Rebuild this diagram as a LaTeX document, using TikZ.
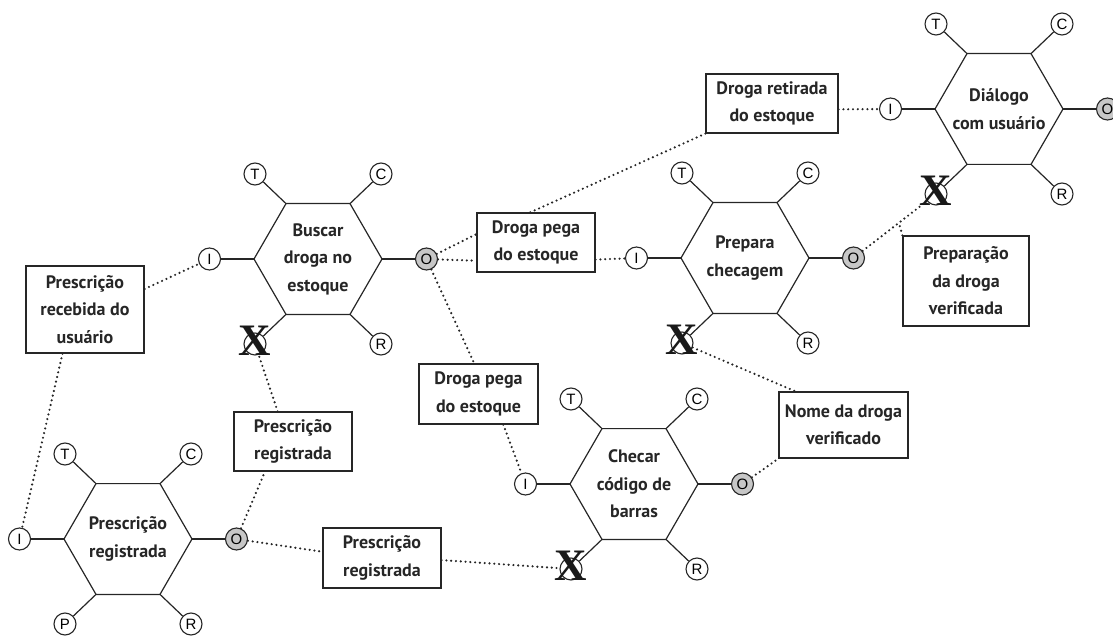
\documentclass[tikz,border=0pt]{standalone}
\usepackage{fontspec}
\setmainfont{PT Sans}
\newfontfamily\circfont{Liberation Sans}
\newfontfamily\xfont{Liberation Serif}
\usetikzlibrary{calc}

\tikzset{
  hexline/.style={line width=1.2pt, line join=miter, draw=black!85},
  hextext/.style={align=center, inner sep=0pt, text=black!85, font=\bfseries\fontsize{18}{27.5}\selectfont},
  port/.style={circle, draw=black!85, line width=1.1pt, minimum size=22pt, inner sep=0pt, fill=white, font=\circfont\fontsize{15}{15}\selectfont},
  outport/.style={port, fill=black!22},
  box/.style={draw=black!85, line width=1.2pt, align=center, inner sep=0pt, text=black!85, font=\bfseries\fontsize{18}{27.5}\selectfont},
  link/.style={line width=2.4pt, dash pattern=on 0pt off 4.8pt, line cap=round, draw=black!85},
  xmark/.style={font=\xfont\bfseries\fontsize{45}{45}\selectfont, inner sep=0pt, text=black!90},
}

\newcommand\hexa[5]{%
  \begin{scope}[shift={(#2,#3)}]
    \draw[hexline] (-64,0) -- (-32,-55.4) -- (32,-55.4) -- (64,0) -- (32,55.4) -- (-32,55.4) -- cycle;
    \node[hextext] (#1) at (0,0) {#4};
    \node[port] (#1T) at (-63,-85) {T};
    \node[port] (#1C) at (63,-85) {C};
    \node[port] (#1I) at (-108.5,0) {I};
    \node[outport] (#1O) at (108.5,0) {O};
    \node[port] (#1B) at (-63,85) {#5};
    \node[port] (#1R) at (63,85) {R};
    \draw[hexline] (-32,-55.4) -- (#1T);
    \draw[hexline] (32,-55.4) -- (#1C);
    \draw[hexline] (-64,0) -- (#1I);
    \draw[hexline] (64,0) -- (#1O);
    \draw[hexline] (-32,55.4) -- (#1B);
    \draw[hexline] (32,55.4) -- (#1R);
  \end{scope}}

\newcommand\xon[1]{\node[xmark] (#1X) at ($(#1B)+(0,-3)$) {X};}

\begin{document}
\begin{tikzpicture}[x=1pt, y=-1pt]
\useasboundingbox (0,0) rectangle (1113,636);

% hexagons
\hexa{h1}{128}{539}{Prescrição\\registrada}{P}
\hexa{h2}{318}{259}{Buscar\\droga no\\estoque}{}
\hexa{h3}{999}{109}{Diálogo\\com usuário}{}
\hexa{h4}{745}{258}{Prepara\\checagem}{}
\hexa{h5}{634}{484}{Checar\\código de\\barras}{}

% boxes
\node[box, minimum width=118pt, minimum height=87pt] (b1) at (85,309.5) {Prescrição\\recebida do\\usuário};
\node[box, minimum width=132pt, minimum height=59pt] (b2) at (772,103.5) {Droga retirada\\do estoque};
\node[box, minimum width=118pt, minimum height=59pt] (b3) at (536,242.5) {Droga pega\\do estoque};
\node[box, minimum width=126pt, minimum height=90pt] (b4) at (966,281) {Preparação\\da droga\\verificada};
\node[box, minimum width=119pt, minimum height=60pt] (b5) at (478.5,394) {Droga pega\\do estoque};
\node[box, minimum width=118pt, minimum height=59pt] (b6) at (293,441.5) {Prescrição\\registrada};
\node[box, minimum width=118pt, minimum height=60pt] (b7) at (382,558) {Prescrição\\registrada};
\node[box, minimum width=129pt, minimum height=66pt] (b8) at (843.5,425) {Nome da droga\\verificado};

% dotted links
\draw[link] (b1.19) -- (h2I);
\draw[link] (b1.243) -- (h1I);
\draw[link] (h1O) -- (b6.227);
\draw[link] (h1O) -- (b7.174);
\draw[link] (b6.117) -- (h2B);
\draw[link] (b7.358) -- (h5B);
\draw[link] (h2O) -- (b3.172);
\draw[link] (h2O) -- (b3.197);
\draw[link] (b2.south west) -- (b3.101);
\draw[link] (h2O) -- (b5.98);
\draw[link] (b5.309) -- (h5I);
\draw[link] (b3.-16) -- (h4I);
\draw[link] (b2.-5) -- (h3I);
\coordinate (j1) at ($(h4O)!0.55!(h3B)$);
\draw[link] (h4O) -- (h3B);
\draw[link] (b4.north west) -- (j1);
\draw[link] (h4B) -- (b8.145);
\draw[link] (h5O) -- (b8.south west);

% X marks
\xon{h2}
\xon{h3}
\xon{h4}
\xon{h5}
\end{tikzpicture}
\end{document}
